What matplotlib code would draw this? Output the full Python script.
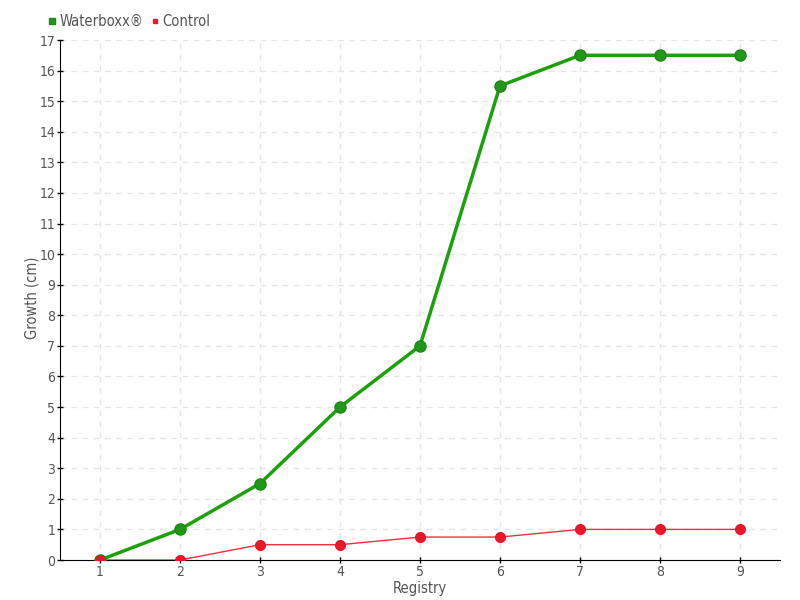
import matplotlib.pyplot as plt

registry = [1, 2, 3, 4, 5, 6, 7, 8, 9]
waterboxx = [0, 1, 2.5, 5, 7, 15.5, 16.5, 16.5, 16.5]
control = [0, 0, 0.5, 0.5, 0.75, 0.75, 1, 1, 1]

plt.rcParams['font.family'] = ['DejaVu Sans']
plt.rcParams['font.stretch'] = 'condensed'
plt.rcParams['font.weight'] = 'light'

fig = plt.figure(figsize=(8, 6), dpi=100)
ax = fig.add_axes([60 / 800, 40 / 600, 720 / 800, 520 / 600])

ax.plot(registry, waterboxx, color='#1ea00e', linewidth=2.5, marker='o',
        markersize=8, markerfacecolor='#22961a', markeredgecolor='#1a8a14',
        label='Waterboxx®', zorder=3)
ax.plot(registry, control, color='#f0303a', linewidth=1, marker='o',
        markersize=7, markerfacecolor='#e8182a', markeredgecolor='#e8182a',
        label='Control', zorder=4)

ax.set_xlim(0.5, 9.5)
ax.set_ylim(0, 17)
ax.set_xticks(registry)
ax.set_yticks(range(0, 18))

ax.grid(True, linestyle=(0, (4, 4)), color='#e6e6e6', linewidth=1)
ax.set_axisbelow(True)
for s in ['top', 'right']:
    ax.spines[s].set_visible(False)
ax.tick_params(direction='inout', length=5, width=1, labelsize=10,
               labelcolor='#555555', pad=1)

ax.set_xlabel('Registry', fontsize=10.5, color='#555555')
ax.xaxis.label.set_verticalalignment('center')
ax.xaxis.set_label_coords((420 - 60) / 720, -28 / 520)
ax.set_ylabel('Growth (cm)', fontsize=10.5, color='#555555')
ax.yaxis.set_label_coords(-28 / 720, (560 - 298) / 520)
ax.yaxis.label.set_verticalalignment('center')

fig.legend(loc='upper left', bbox_to_anchor=(48 / 800, 1 - 14 / 600),
           ncol=2, frameon=False, fontsize=10.5, handlelength=0.5,
           handletextpad=0.3, columnspacing=0.5, markerscale=0.5,
           labelcolor='#555555', borderaxespad=0, borderpad=0)
leg = fig.legends[0]
for h in leg.legend_handles:
    h.set_linestyle('None')
    h.set_marker('s')

fig.savefig('out.png', dpi=100)
